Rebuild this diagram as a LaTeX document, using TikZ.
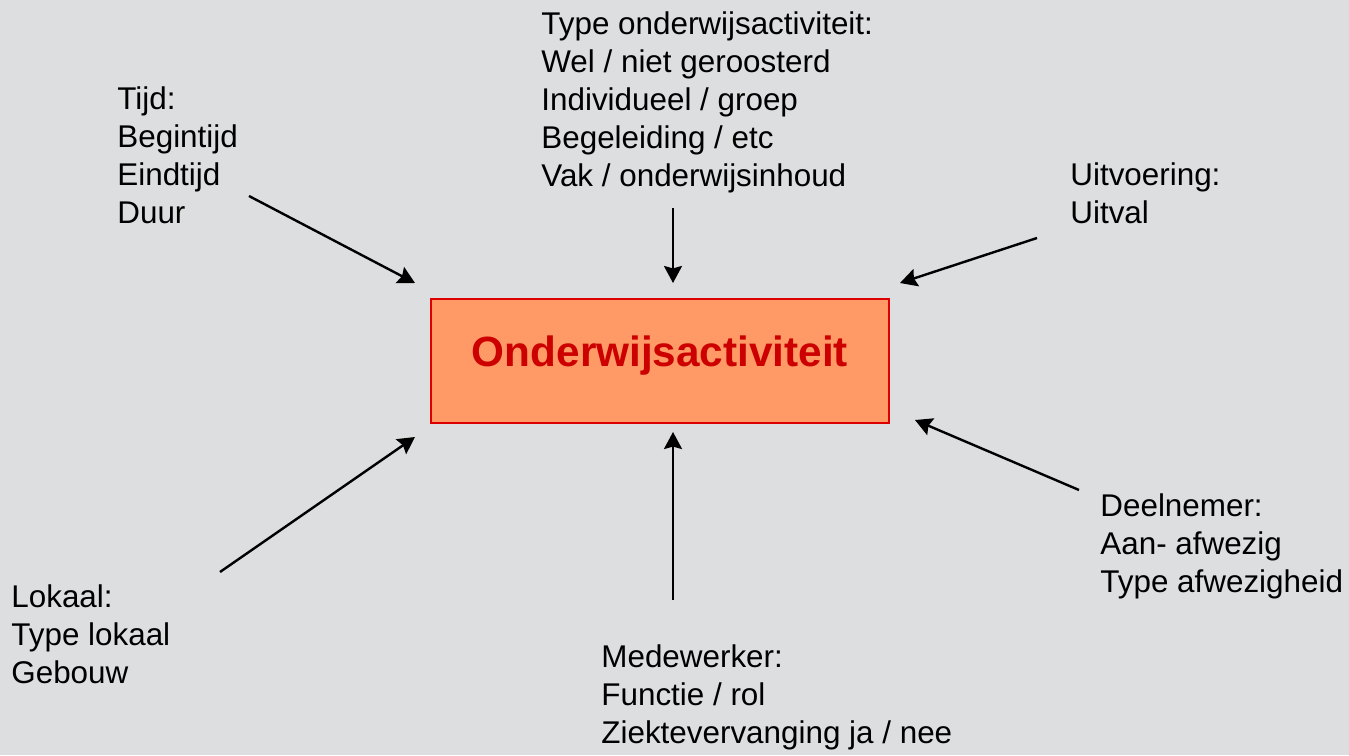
\documentclass[tikz,border=0pt]{standalone}
\usepackage{fontspec}
\setmainfont{Liberation Sans}
\usetikzlibrary{arrows.meta}
\definecolor{slideBg}{RGB}{221,222,224}
\definecolor{boxFill}{RGB}{255,153,102}
\definecolor{boxLine}{RGB}{221,0,0}
\definecolor{boxText}{RGB}{204,0,0}
\tikzstyle{aspect}=[anchor=base west, align=left, inner sep=0pt, font=\fontsize{15.7}{19}\selectfont]
\tikzstyle{central}=[draw=boxLine, line width=1pt, fill=boxFill, minimum width=229pt, minimum height=62pt, text=boxText, font=\bfseries\fontsize{21.15}{25}\selectfont, text depth=10pt]
\tikzstyle{arrow}=[-{Stealth[length=8.5pt,width=9pt,inset=1.2pt]}, line width=1.2pt]

\begin{document}
\begin{tikzpicture}[x=0.5pt, y=-0.5pt]
      \fill[slideBg] (0,0) rectangle (1349,755);
      \useasboundingbox (0,0) rectangle (1349,755);

      \node[central] (activiteit) at (660,361) {Onderwijsactiviteit};

      % blocks are placed by the baseline of their last line
      \node[aspect] (tijdText) at (117,223) {Tijd:\\Begintijd\\Eindtijd\\Duur};
      \node[aspect] (typeText) at (541,186) {Type onderwijsactiviteit:\\Wel / niet geroosterd\\Individueel / groep\\Begeleiding / etc\\Vak / onderwijsinhoud};
      \node[aspect] (uitvoeringText) at (1070,223) {Uitvoering:\\Uitval};
      \node[aspect] (lokaalText) at (11,683) {Lokaal:\\Type lokaal\\Gebouw};
      \node[aspect] (medewerkerText) at (601,743) {Medewerker:\\Functie / rol\\Ziektevervanging ja / nee};
      \node[aspect] (deelnemerText) at (1100,592) {Deelnemer:\\Aan- afwezig\\Type afwezigheid};

      % arrow ends
      \coordinate (tijdFrom) at (249,196);
      \coordinate (tijdTo) at (415,283);
      \coordinate (typeFrom) at (673,208);
      \coordinate (typeTo) at (673,283);
      \coordinate (uitvoeringFrom) at (1037,238);
      \coordinate (uitvoeringTo) at (900,283);
      \coordinate (lokaalFrom) at (220,572);
      \coordinate (lokaalTo) at (415,437);
      \coordinate (medewerkerFrom) at (673,600);
      \coordinate (medewerkerTo) at (673,432);
      \coordinate (deelnemerFrom) at (1079,490);
      \coordinate (deelnemerTo) at (915,420);

      \foreach \n in {tijd, type, uitvoering, lokaal, medewerker, deelnemer}{
        \draw[arrow] (\n From) -- (\n To);
      }

\end{tikzpicture}
\end{document}
